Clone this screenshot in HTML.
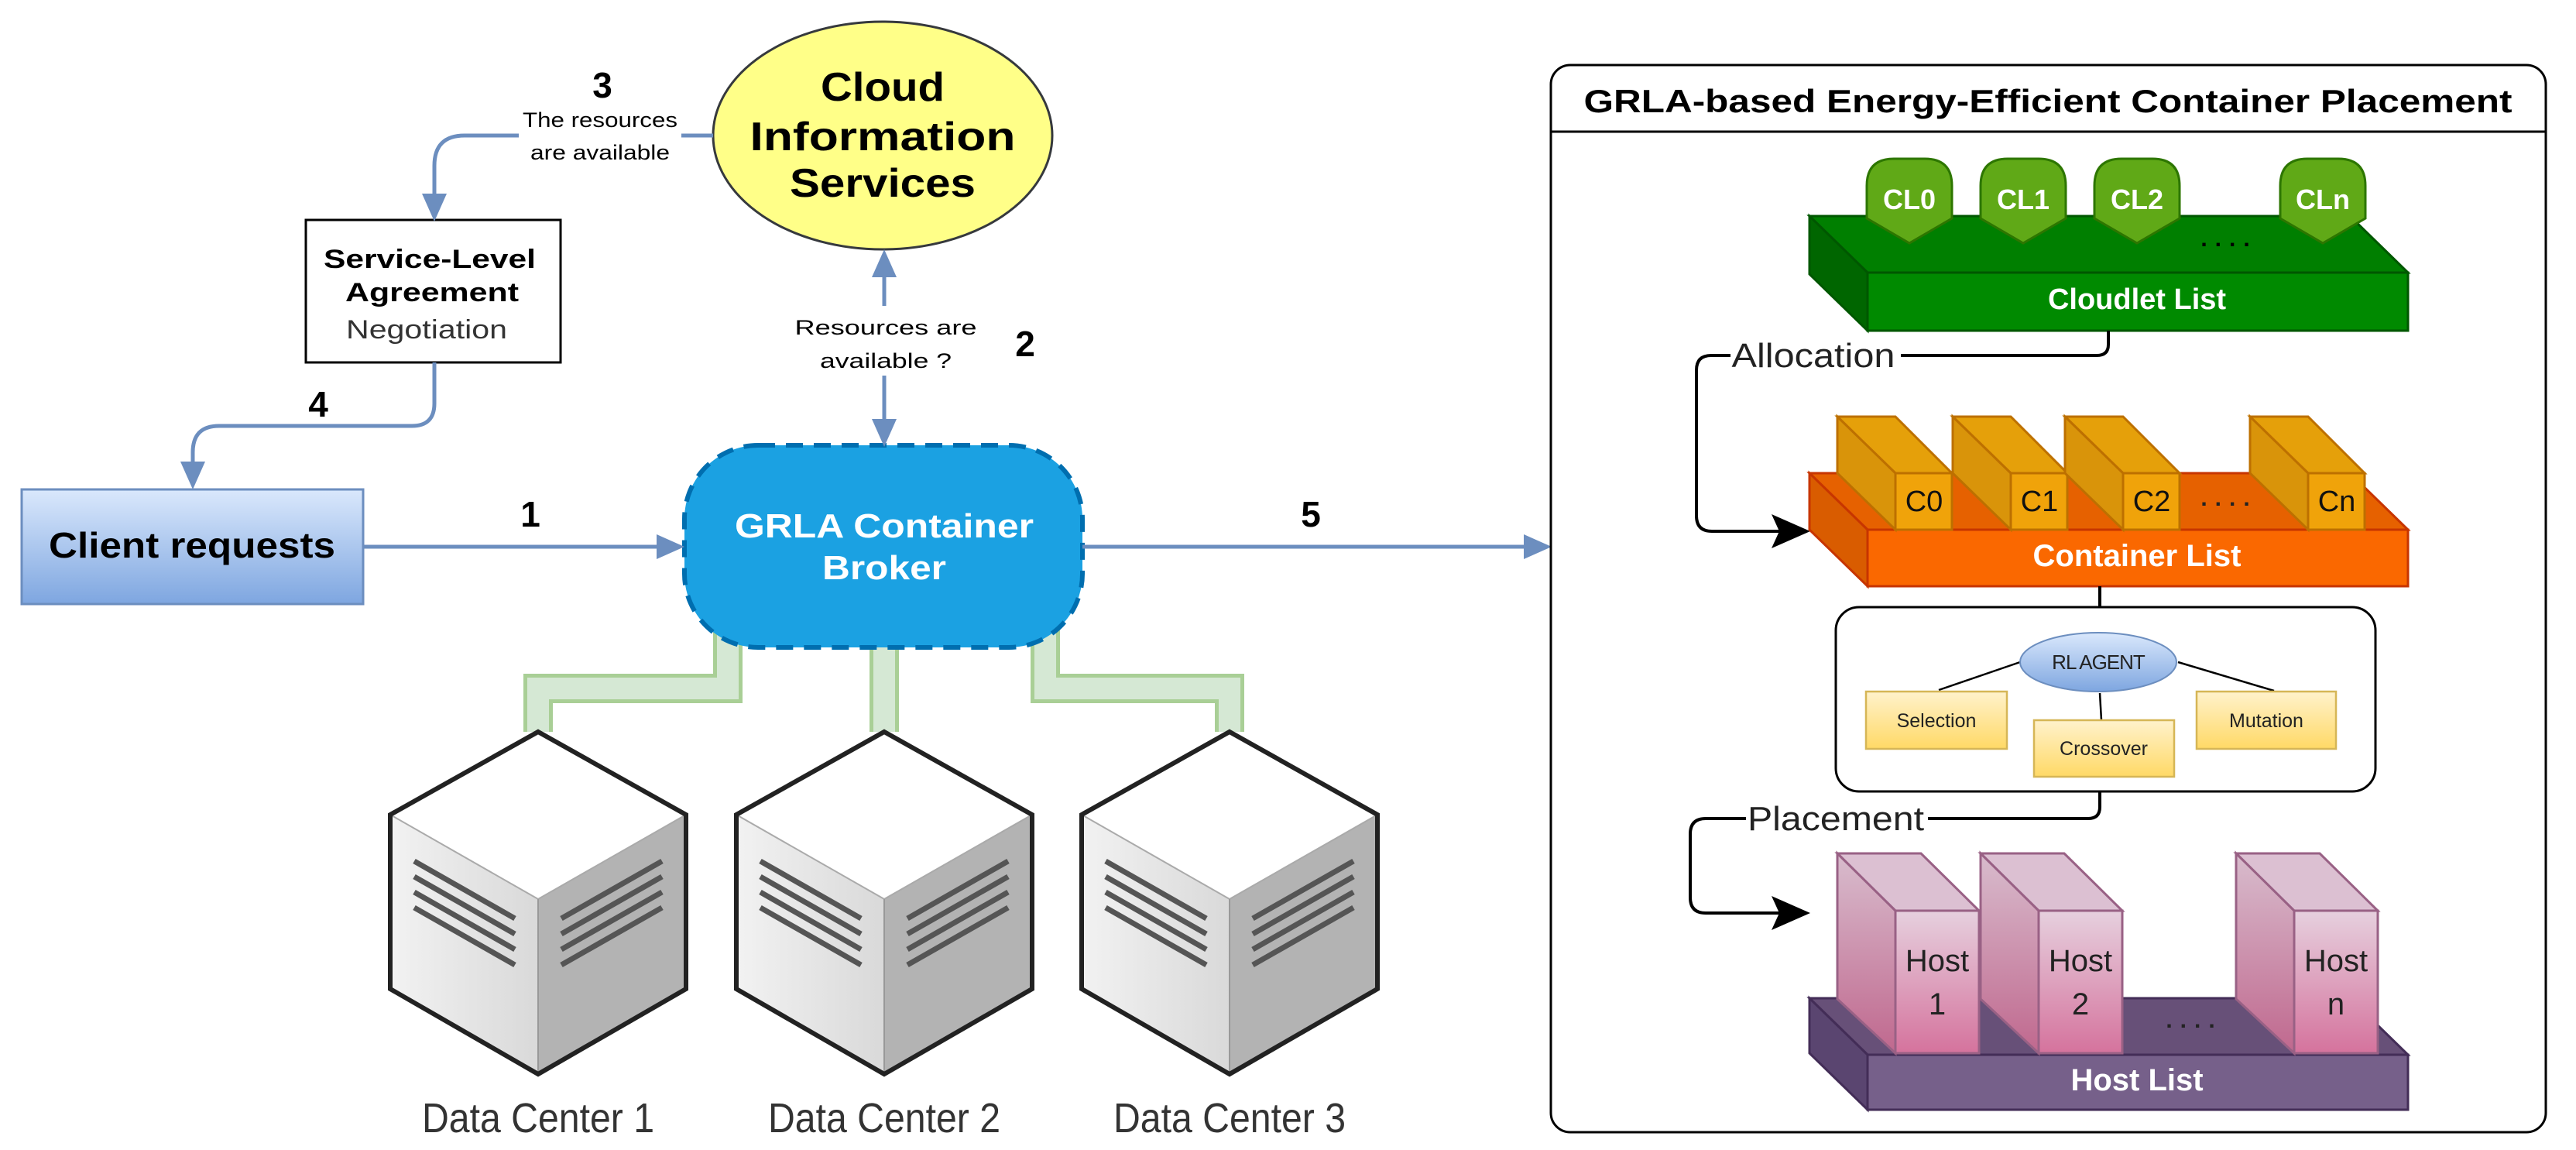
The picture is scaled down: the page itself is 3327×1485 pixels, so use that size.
<!DOCTYPE html>
<html><head><meta charset="utf-8"><style>html,body{margin:0;padding:0;background:#fff}svg{display:block}</style></head>
<body>
<svg width="3327" height="1485" viewBox="0 0 3327 1485" xmlns="http://www.w3.org/2000/svg" font-family="Liberation Sans, sans-serif">
<defs>
<linearGradient id="gb" x1="0" y1="0" x2="0" y2="1"><stop offset="0" stop-color="#dae8fc"/><stop offset="1" stop-color="#7ea6e0"/></linearGradient>
<linearGradient id="gy" x1="0" y1="0" x2="0" y2="1"><stop offset="0" stop-color="#fff2cc"/><stop offset="1" stop-color="#ffd966"/></linearGradient>
<linearGradient id="gp" x1="0" y1="0" x2="0" y2="1"><stop offset="0" stop-color="#e6d0de"/><stop offset="1" stop-color="#d5739d"/></linearGradient>
<linearGradient id="gp2" x1="0" y1="0" x2="0" y2="1"><stop offset="0" stop-color="#d8bccd"/><stop offset="1" stop-color="#c0688e"/></linearGradient>
<linearGradient id="gl" x1="0" y1="0" x2="1" y2="0"><stop offset="0" stop-color="#f2f2f2"/><stop offset="1" stop-color="#d9d9d9"/></linearGradient>
</defs>

<!-- pipes -->
<g fill="none" stroke-linejoin="miter">
<g stroke="#a9cf96" stroke-width="38">
<polyline points="940,810 940,889 695,889 695,945"/>
<polyline points="1142,830 1142,945"/>
<polyline points="1350,810 1350,889 1588,889 1588,945"/>
</g>
<g stroke="#d5e8d4" stroke-width="28">
<polyline points="940,810 940,889 695,889 695,945"/>
<polyline points="1142,830 1142,945"/>
<polyline points="1350,810 1350,889 1588,889 1588,945"/>
</g>
</g>

<!-- cubes -->
<g>
<g transform="translate(695,0)">
<polygon points="0,945 191,1052 0,1161 -191,1052" fill="#fff"/>
<polygon points="-191,1052 0,1161 0,1387 -191,1277" fill="url(#gl)"/>
<polygon points="191,1052 0,1161 0,1387 191,1277" fill="#b3b3b3"/>
<g stroke="#555" stroke-width="7"><line x1="-160" y1="1112" x2="-30" y2="1186"/><line x1="-160" y1="1132" x2="-30" y2="1206"/><line x1="-160" y1="1152" x2="-30" y2="1226"/><line x1="-160" y1="1172" x2="-30" y2="1246"/>
<line x1="30" y1="1186" x2="160" y2="1112"/><line x1="30" y1="1206" x2="160" y2="1132"/><line x1="30" y1="1226" x2="160" y2="1152"/><line x1="30" y1="1246" x2="160" y2="1172"/></g>
<polyline points="-191,1052 0,1161 191,1052" fill="none" stroke="#aaa" stroke-width="2"/><line x1="0" y1="1161" x2="0" y2="1387" stroke="#999" stroke-width="2"/>
<polygon points="0,945 191,1052 191,1277 0,1387 -191,1277 -191,1052" fill="none" stroke="#222" stroke-width="6"/>
</g>
<g transform="translate(1142,0)">
<polygon points="0,945 191,1052 0,1161 -191,1052" fill="#fff"/>
<polygon points="-191,1052 0,1161 0,1387 -191,1277" fill="url(#gl)"/>
<polygon points="191,1052 0,1161 0,1387 191,1277" fill="#b3b3b3"/>
<g stroke="#555" stroke-width="7"><line x1="-160" y1="1112" x2="-30" y2="1186"/><line x1="-160" y1="1132" x2="-30" y2="1206"/><line x1="-160" y1="1152" x2="-30" y2="1226"/><line x1="-160" y1="1172" x2="-30" y2="1246"/>
<line x1="30" y1="1186" x2="160" y2="1112"/><line x1="30" y1="1206" x2="160" y2="1132"/><line x1="30" y1="1226" x2="160" y2="1152"/><line x1="30" y1="1246" x2="160" y2="1172"/></g>
<polyline points="-191,1052 0,1161 191,1052" fill="none" stroke="#aaa" stroke-width="2"/><line x1="0" y1="1161" x2="0" y2="1387" stroke="#999" stroke-width="2"/>
<polygon points="0,945 191,1052 191,1277 0,1387 -191,1277 -191,1052" fill="none" stroke="#222" stroke-width="6"/>
</g>
<g transform="translate(1588,0)">
<polygon points="0,945 191,1052 0,1161 -191,1052" fill="#fff"/>
<polygon points="-191,1052 0,1161 0,1387 -191,1277" fill="url(#gl)"/>
<polygon points="191,1052 0,1161 0,1387 191,1277" fill="#b3b3b3"/>
<g stroke="#555" stroke-width="7"><line x1="-160" y1="1112" x2="-30" y2="1186"/><line x1="-160" y1="1132" x2="-30" y2="1206"/><line x1="-160" y1="1152" x2="-30" y2="1226"/><line x1="-160" y1="1172" x2="-30" y2="1246"/>
<line x1="30" y1="1186" x2="160" y2="1112"/><line x1="30" y1="1206" x2="160" y2="1132"/><line x1="30" y1="1226" x2="160" y2="1152"/><line x1="30" y1="1246" x2="160" y2="1172"/></g>
<polyline points="-191,1052 0,1161 191,1052" fill="none" stroke="#aaa" stroke-width="2"/><line x1="0" y1="1161" x2="0" y2="1387" stroke="#999" stroke-width="2"/>
<polygon points="0,945 191,1052 191,1277 0,1387 -191,1277 -191,1052" fill="none" stroke="#222" stroke-width="6"/>
</g>
</g>
<g font-size="54" fill="#333" text-anchor="middle">
<text x="695" y="1462" textLength="300" lengthAdjust="spacingAndGlyphs">Data Center 1</text>
<text x="1142" y="1462" textLength="300" lengthAdjust="spacingAndGlyphs">Data Center 2</text>
<text x="1588" y="1462" textLength="300" lengthAdjust="spacingAndGlyphs">Data Center 3</text>
</g>

<!-- broker -->
<rect x="884" y="575" width="514" height="261" rx="95" fill="#1ba1e2" stroke="#006eaf" stroke-width="6" stroke-dasharray="22,14"/>
<g font-weight="bold" fill="#fff" font-size="44" text-anchor="middle">
<text x="1142" y="694" textLength="386" lengthAdjust="spacingAndGlyphs">GRLA Container</text>
<text x="1142" y="748" textLength="160" lengthAdjust="spacingAndGlyphs">Broker</text>
</g>

<!-- cloud info ellipse -->
<ellipse cx="1140" cy="175" rx="219" ry="147" fill="#ffff88" stroke="#36393d" stroke-width="3"/>
<g font-weight="bold" fill="#000" font-size="52" text-anchor="middle">
<text x="1140" y="130" textLength="160" lengthAdjust="spacingAndGlyphs">Cloud</text>
<text x="1140" y="194" textLength="343" lengthAdjust="spacingAndGlyphs">Information</text>
<text x="1140" y="254" textLength="240" lengthAdjust="spacingAndGlyphs">Services</text>
</g>

<!-- client -->
<rect x="28" y="632" width="441" height="148" fill="url(#gb)" stroke="#6c8ebf" stroke-width="3"/>
<text x="248" y="720" font-weight="bold" font-size="46" text-anchor="middle" textLength="370" lengthAdjust="spacingAndGlyphs">Client requests</text>

<!-- SLA -->
<rect x="395" y="284" width="329" height="184" fill="#fff" stroke="#000" stroke-width="3"/>
<g text-anchor="middle" font-size="34">
<text x="555" y="346" font-weight="bold" textLength="274" lengthAdjust="spacingAndGlyphs">Service-Level</text>
<text x="558" y="389" font-weight="bold" textLength="224" lengthAdjust="spacingAndGlyphs">Agreement</text>
<text x="551" y="437" fill="#333" textLength="208" lengthAdjust="spacingAndGlyphs">Negotiation</text>
</g>

<!-- blue arrows -->
<g fill="none" stroke="#6c8ebf" stroke-width="5">
<path d="M921,175 L600,175 Q561,175 561,214 L561,255"/>
<path d="M561,468 L561,521 Q561,550 532,550 L283,550 Q249,550 249,584 L249,600"/>
<line x1="469" y1="706" x2="855" y2="706"/>
<line x1="1398" y1="706" x2="1975" y2="706"/>
<line x1="1142" y1="350" x2="1142" y2="548"/>
</g>
<g fill="#6c8ebf">
<polygon points="545,250 577,250 561,286"/>
<polygon points="233,596 265,596 249,632"/>
<polygon points="848,690 848,722 884,706"/>
<polygon points="1968,690 1968,722 2004,706"/>
<polygon points="1126,358 1158,358 1142,322"/>
<polygon points="1126,541 1158,541 1142,577"/>
</g>
<rect x="670" y="128" width="210" height="80" fill="#fff"/>
<rect x="1015" y="395" width="255" height="90" fill="#fff"/>
<g text-anchor="middle" font-size="27" fill="#000">
<text x="775" y="164" textLength="200" lengthAdjust="spacingAndGlyphs">The resources</text>
<text x="775" y="206" textLength="180" lengthAdjust="spacingAndGlyphs">are available</text>
<text x="1144" y="432" textLength="235" lengthAdjust="spacingAndGlyphs">Resources are</text>
<text x="1144" y="475" textLength="170" lengthAdjust="spacingAndGlyphs">available ?</text>
</g>
<g font-weight="bold" font-size="46" text-anchor="middle">
<text x="778" y="126">3</text>
<text x="1324" y="460">2</text>
<text x="411" y="538">4</text>
<text x="685" y="680">1</text>
<text x="1693" y="680">5</text>
</g>

<!-- right panel -->
<rect x="2003" y="84" width="1285" height="1378" rx="25" fill="#fff" stroke="#000" stroke-width="3"/>
<line x1="2003" y1="170" x2="3288" y2="170" stroke="#000" stroke-width="3"/>
<text x="2645" y="145" font-weight="bold" font-size="42" text-anchor="middle" textLength="1199" lengthAdjust="spacingAndGlyphs">GRLA-based Energy-Efficient Container Placement</text>

<!-- cloudlet slab -->
<polygon points="2337,279 3035,279 3110,352 2412,352" fill="#007f00" stroke="#005700" stroke-width="3"/>
<polygon points="2337,279 2412,352 2412,427 2337,354" fill="#006600" stroke="#005700" stroke-width="3"/>
<rect x="2412" y="352" width="698" height="75" fill="#008a00" stroke="#005700" stroke-width="3"/>
<g fill="#60a917" stroke="#2d7600" stroke-width="3">
<path d="M2411,240 Q2411,205 2446,205 L2486,205 Q2521,205 2521,240 L2521,282 L2466,314 L2411,282 Z"/>
<path d="M2558,240 Q2558,205 2593,205 L2633,205 Q2668,205 2668,240 L2668,282 L2613,314 L2558,282 Z"/>
<path d="M2705,240 Q2705,205 2740,205 L2780,205 Q2815,205 2815,240 L2815,282 L2760,314 L2705,282 Z"/>
<path d="M2945,240 Q2945,205 2980,205 L3020,205 Q3055,205 3055,240 L3055,282 L3000,314 L2945,282 Z"/>
</g>
<g fill="#fff" font-weight="bold" font-size="36" text-anchor="middle">
<text x="2466" y="270">CL0</text><text x="2613" y="270">CL1</text><text x="2760" y="270">CL2</text><text x="3000" y="270">CLn</text>
<text x="2760" y="399" font-size="38">Cloudlet List</text>
</g>
<text x="2879" y="318" font-size="30" font-weight="bold" text-anchor="middle" letter-spacing="10">....</text>

<!-- allocation connector -->
<path d="M2723,427 L2723,445 Q2723,459 2708,459 L2455,459" fill="none" stroke="#000" stroke-width="4"/>
<path d="M2235,459 L2210,459 Q2191,459 2191,478 L2191,666 Q2191,686 2211,686 L2300,686" fill="none" stroke="#000" stroke-width="4"/>
<polygon points="2288,664 2338,686 2288,708 2298,686" fill="#000"/>
<text x="2342" y="474" font-size="44" text-anchor="middle" fill="#222" textLength="211" lengthAdjust="spacingAndGlyphs">Allocation</text>

<!-- container slab -->
<polygon points="2337,611 3035,611 3110,684 2412,684" fill="#e66100" stroke="#c73500" stroke-width="3"/>
<polygon points="2337,611 2412,684 2412,757 2337,684" fill="#d95c00" stroke="#c73500" stroke-width="3"/>
<rect x="2412" y="684" width="698" height="73" fill="#fa6800" stroke="#c73500" stroke-width="3"/>
<g stroke="#bd7000" stroke-width="3">
<g transform="translate(2448,0)"><polygon points="-75,538 0,538 73,611 0,611" fill="#e5a00a"/><polygon points="-75,538 0,611 0,684 -75,611" fill="#d9940a"/><rect x="0" y="611" width="73" height="73" fill="#f0a30a"/></g>
<g transform="translate(2597,0)"><polygon points="-75,538 0,538 73,611 0,611" fill="#e5a00a"/><polygon points="-75,538 0,611 0,684 -75,611" fill="#d9940a"/><rect x="0" y="611" width="73" height="73" fill="#f0a30a"/></g>
<g transform="translate(2742,0)"><polygon points="-75,538 0,538 73,611 0,611" fill="#e5a00a"/><polygon points="-75,538 0,611 0,684 -75,611" fill="#d9940a"/><rect x="0" y="611" width="73" height="73" fill="#f0a30a"/></g>
<g transform="translate(2981,0)"><polygon points="-75,538 0,538 73,611 0,611" fill="#e5a00a"/><polygon points="-75,538 0,611 0,684 -75,611" fill="#d9940a"/><rect x="0" y="611" width="73" height="73" fill="#f0a30a"/></g>
</g>
<g font-size="38" text-anchor="middle" fill="#111">
<text x="2485" y="660">C0</text><text x="2634" y="660">C1</text><text x="2779" y="660">C2</text><text x="3018" y="660">Cn</text>
</g>
<text x="2879" y="653" font-size="30" font-weight="bold" text-anchor="middle" letter-spacing="10" fill="#222">....</text>
<text x="2760" y="731" fill="#fff" font-weight="bold" font-size="40" text-anchor="middle">Container List</text>

<!-- RL box -->
<line x1="2712" y1="757" x2="2712" y2="784" stroke="#000" stroke-width="4"/>
<rect x="2371" y="784" width="697" height="238" rx="30" fill="#fff" stroke="#000" stroke-width="3"/>
<g stroke="#000" stroke-width="2.5">
<line x1="2609" y1="855" x2="2504" y2="891"/><line x1="2712" y1="895" x2="2714" y2="930"/><line x1="2813" y1="855" x2="2937" y2="892"/>
</g>
<ellipse cx="2710" cy="855" rx="101" ry="38" fill="url(#gb)" stroke="#6c8ebf" stroke-width="2"/>
<text x="2710" y="864" font-size="26" text-anchor="middle" fill="#222" letter-spacing="-1">RL AGENT</text>
<g fill="url(#gy)" stroke="#d6b656" stroke-width="2.5">
<rect x="2410" y="893" width="182" height="74"/><rect x="2627" y="930" width="181" height="73"/><rect x="2837" y="893" width="180" height="74"/>
</g>
<g font-size="25" text-anchor="middle" fill="#222">
<text x="2501" y="939">Selection</text><text x="2717" y="975">Crossover</text><text x="2927" y="939">Mutation</text>
</g>

<!-- placement connector -->
<path d="M2712,1022 L2712,1042 Q2712,1057 2697,1057 L2490,1057" fill="none" stroke="#000" stroke-width="4"/>
<path d="M2255,1057 L2203,1057 Q2183,1057 2183,1077 L2183,1159 Q2183,1179 2203,1179 L2300,1179" fill="none" stroke="#000" stroke-width="4"/>
<polygon points="2288,1157 2338,1179 2288,1201 2298,1179" fill="#000"/>
<text x="2371" y="1072" font-size="44" text-anchor="middle" fill="#222" textLength="228" lengthAdjust="spacingAndGlyphs">Placement</text>

<!-- host slab -->
<polygon points="2337,1289 3035,1289 3110,1362 2412,1362" fill="#675078" stroke="#432d57" stroke-width="3"/>
<polygon points="2337,1289 2412,1362 2412,1433 2337,1360" fill="#5a4570" stroke="#432d57" stroke-width="3"/>
<rect x="2412" y="1362" width="698" height="71" fill="#76608a" stroke="#432d57" stroke-width="3"/>
<g stroke="#996185" stroke-width="3">
<g transform="translate(2448,0)"><polygon points="-75,1102 33,1102 108,1176 0,1176" fill="#dcc0d2"/><polygon points="-75,1102 0,1176 0,1360 -75,1290" fill="url(#gp2)"/><rect x="0" y="1176" width="108" height="184" fill="url(#gp)"/></g>
<g transform="translate(2633,0)"><polygon points="-75,1102 33,1102 108,1176 0,1176" fill="#dcc0d2"/><polygon points="-75,1102 0,1176 0,1360 -75,1290" fill="url(#gp2)"/><rect x="0" y="1176" width="108" height="184" fill="url(#gp)"/></g>
<g transform="translate(2963,0)"><polygon points="-75,1102 33,1102 108,1176 0,1176" fill="#dcc0d2"/><polygon points="-75,1102 0,1176 0,1360 -75,1290" fill="url(#gp2)"/><rect x="0" y="1176" width="108" height="184" fill="url(#gp)"/></g>
</g>
<g font-size="40" text-anchor="middle" fill="#222">
<text x="2502" y="1254">Host</text><text x="2502" y="1310">1</text>
<text x="2687" y="1254">Host</text><text x="2687" y="1310">2</text>
<text x="3017" y="1254">Host</text><text x="3017" y="1310">n</text>
</g>
<text x="2834" y="1327" font-size="30" font-weight="bold" text-anchor="middle" letter-spacing="10" fill="#222">....</text>
<text x="2760" y="1408" fill="#fff" font-weight="bold" font-size="40" text-anchor="middle">Host List</text>
</svg>
</body></html>
